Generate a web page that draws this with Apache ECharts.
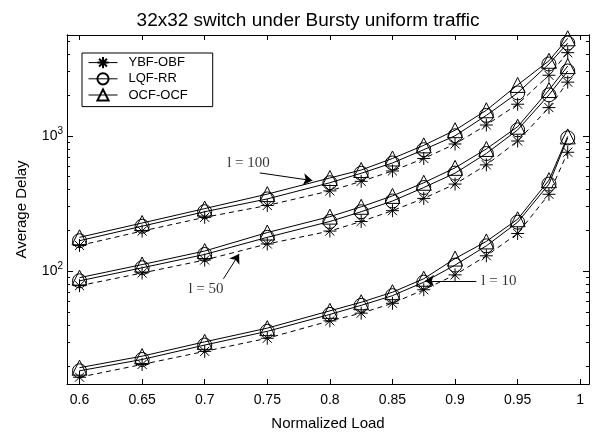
<!DOCTYPE html>
<html>
<head>
<meta charset="utf-8">
<script src="https://cdn.jsdelivr.net/npm/echarts@6/dist/echarts.min.js"></script>
<style>html,body{margin:0;padding:0;background:#fff}#c{width:597px;height:436px}</style>
</head>
<body>
<div id="c"></div>
<script>
var loads = [0.6, 0.65, 0.7, 0.75, 0.8, 0.825, 0.85, 0.875, 0.9, 0.925, 0.95, 0.975, 0.99];
var xTicks = [0.6, 0.65, 0.7, 0.75, 0.8, 0.85, 0.9, 0.95, 1];
var yMajor = [100, 1000];
var yMinor = [20,30,40,50,60,70,80,90,200,300,400,500,600,700,800,900,2000,3000,4000,5000];

var ocf100 = [178, 227, 290, 371, 488, 559, 680, 850, 1100, 1544, 2375, 3580, 5250];
var lqf100 = [168, 215, 275, 342, 450, 529, 630, 790, 1000, 1415, 2073, 3390, 4840];
var ybf100 = [155, 198, 250, 306, 392, 461, 550, 680, 870, 1201, 1711, 2800, 4110];
var ocf50 = [89.6, 112, 141, 193, 253, 299, 360, 450, 580, 800, 1167, 2178, 3270];
var lqf50 = [84.9, 106, 133, 178, 233, 275, 330, 415, 530, 740, 1106, 2005, 3010];
var ybf50 = [78.2, 97, 121, 159, 198, 233, 280, 345, 440, 610, 915, 1615, 2490];
var ocf10 = [19.4, 23.6, 30.1, 38, 51, 59, 70, 88, 124, 166, 242, 470, 990];
var lqf10 = [18.4, 22.3, 28.5, 36, 48, 56, 66, 83, 111, 154, 230, 440, 965];
var ybf10 = [16.5, 20.5, 25.6, 32, 43, 49, 58, 73, 94, 130, 190, 370, 756];

var notes = [
  {text: 'l = 100', at: [0.735, 624], from: [0.744, 532], to: [0.786, 467]},
  {text: 'l = 50', at: [0.701, 74], from: [0.715, 88], to: [0.7275, 134]},
  {text: 'l = 10', at: [0.935, 84.5], from: [0.917, 84.5], to: [0.876, 85]}
];

var starPath = 'path://M0,-1L0,1M-1,0L1,0M-0.7,-0.7L0.7,0.7M-0.7,0.7L0.7,-0.7';
var styles = {
  'YBF-OBF': {symbol: starPath, type: [5, 4], size: 13},
  'LQF-RR': {symbol: 'circle', type: 'solid', size: 14},
  'OCF-OCF': {symbol: 'triangle', type: 'solid', size: 15}
};
function zip(v) { return loads.map(function (x, i) { return [x, v[i]]; }); }
function mk(name, vals) {
  var s = styles[name];
  return {
    name: name, type: 'line', data: zip(vals), symbol: s.symbol, symbolSize: s.size,
    showAllSymbol: true, animation: false,
    lineStyle: {color: '#000', width: 1, type: s.type},
    itemStyle: {color: 'rgba(0,0,0,0)', borderColor: '#000', borderWidth: 1}
  };
}
var series = [
  mk('YBF-OBF', ybf100), mk('LQF-RR', lqf100), mk('OCF-OCF', ocf100),
  mk('YBF-OBF', ybf50), mk('LQF-RR', lqf50), mk('OCF-OCF', ocf50),
  mk('YBF-OBF', ybf10), mk('LQF-RR', lqf10), mk('OCF-OCF', ocf10)
];
series.push({
  type: 'lines', coordinateSystem: 'cartesian2d', animation: false, silent: true,
  symbol: ['none', 'arrow'], symbolSize: [0, 9],
  lineStyle: {color: '#000', width: 1, opacity: 1, type: 'solid'},
  data: notes.map(function (n) { return {coords: [n.from, n.to]}; })
});
series.push({
  type: 'scatter', symbolSize: 0, animation: false, silent: true,
  data: notes.map(function (n) { return {value: n.at, name: n.text}; }),
  label: {show: true, position: 'inside', formatter: '{b}', color: '#000',
    fontFamily: 'Liberation Serif', fontSize: 15}
});

var sup = {b: {fontSize: 14, color: '#000', fontFamily: 'Liberation Sans'},
  s: {fontSize: 10, color: '#000', fontFamily: 'Liberation Sans', padding: [0, 0, 9, 0]}};
function yAx(pos, len, vals, labels) {
  return {
    type: 'log', logBase: 10, min: 14.7, max: 5550, position: pos,
    axisLine: {show: true, lineStyle: {color: '#000', width: 1}},
    splitLine: {show: false},
    axisTick: {show: true, inside: true, length: len, customValues: vals, lineStyle: {color: '#000'}},
    axisLabel: labels ? {show: true, customValues: yMajor, margin: 4, rich: sup,
      formatter: function (v) { return '{b|10}{s|' + Math.round(Math.log10(v)) + '}'; }} : {show: false},
    name: labels ? 'Average Delay' : '', nameLocation: 'middle', nameGap: 38,
    nameTextStyle: {color: '#000', fontSize: 15, fontFamily: 'Liberation Sans'}
  };
}
function xAx(pos, labels) {
  return {
    type: 'value', min: 0.59, max: 1.007, position: pos,
    axisLine: {show: true, lineStyle: {color: '#000', width: 1}},
    splitLine: {show: false},
    axisTick: {show: true, inside: true, length: 5, customValues: xTicks, lineStyle: {color: '#000'}},
    axisLabel: labels ? {show: true, customValues: xTicks, margin: 9, color: '#000', fontSize: 14,
      fontFamily: 'Liberation Sans', formatter: function (v) { return String(+v.toFixed(2)); }} : {show: false},
    name: labels ? 'Normalized Load' : '', nameLocation: 'middle', nameGap: 32,
    nameTextStyle: {color: '#000', fontSize: 15, fontFamily: 'Liberation Sans'}
  };
}

var chart = echarts.init(document.getElementById('c'), null, {renderer: 'canvas'});
chart.setOption({
  backgroundColor: '#fff',
  animation: false,
  title: {text: '32x32 switch under Bursty uniform traffic', left: 303, top: 6, textAlign: 'center',
    textStyle: {color: '#000', fontSize: 19, fontWeight: 'normal', fontFamily: 'Liberation Sans'}},
  grid: {left: 67, right: 8, top: 35, bottom: 39, containLabel: false},
  legend: {
    data: ['YBF-OBF', 'LQF-RR', 'OCF-OCF'], orient: 'vertical', left: 82, top: 53,
    backgroundColor: '#fff', borderColor: '#000', borderWidth: 1, padding: [3, 25, 5, 6],
    itemWidth: 29, itemHeight: 14, itemGap: 3,
    lineStyle: {type: 'solid', color: '#000', width: 1},
    textStyle: {color: '#000', fontSize: 13, fontFamily: 'Liberation Sans', padding: [0, 0, 0, 6]}
  },
  xAxis: [xAx('bottom', true), xAx('top', false)],
  yAxis: [yAx('left', 6, yMajor, true), yAx('left', 3, yMinor, false),
          yAx('right', 6, yMajor, false), yAx('right', 3, yMinor, false)],
  series: series
});
</script>
</body>
</html>
